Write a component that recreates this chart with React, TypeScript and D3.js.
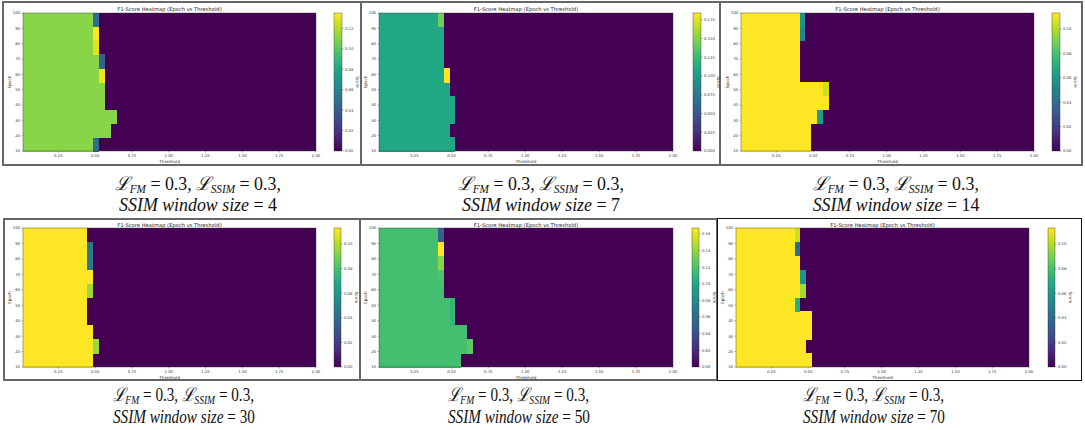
import React from 'react';
import * as d3 from 'd3';

// epochs (rows, bottom to top) and threshold axis
const epochs = [10, 20, 30, 40, 50, 60, 70, 80, 90, 100];
const thresholdExtent: [number, number] = [0.01, 2.0];
const thresholdCount = 50;
const xTicks = [0.25, 0.5, 0.75, 1.0, 1.25, 1.5, 1.75, 2.0];

// per panel: number of columns at the base score for each epoch row, and the score of the cell right after
const ws4Fill = [12, 15, 16, 14, 14, 13, 13, 12, 12, 12];
const ws4Edge = [0.047, 0, 0, 0, 0, 0.132, 0.042, 0.129, 0.135, 0.047];
const ws7Fill = [13, 12, 13, 13, 12, 11, 11, 11, 11, 10];
const ws7Edge = [0, 0, 0, 0, 0, 0.184, 0, 0, 0, 0.143];
const ws14Fill = [12, 12, 13, 15, 14, 10, 10, 10, 10, 10];
const ws14Edge = [0, 0, 0.062, 0, 0.105, 0, 0, 0, 0.051, 0.057];
const ws30Fill = [12, 12, 12, 11, 11, 11, 12, 11, 11, 11];
const ws30Edge = [0, 0.096, 0, 0, 0, 0.096, 0, 0.045, 0.045, 0];
const ws50Fill = [14, 15, 15, 12, 12, 11, 10, 10, 10, 10];
const ws50Edge = [0, 0.124, 0, 0.111, 0.111, 0, 0.12, 0.137, 0.167, 0.05];
const ws70Fill = [13, 12, 13, 13, 10, 11, 11, 11, 10, 10];
const ws70Edge = [0, 0, 0, 0, 0.07, 0.097, 0.059, 0, 0.04, 0.104];

const windowSizes = [4, 7, 14, 30, 50, 70];
const baseScores = [0.111, 0.11, 0.113, 0.113, 0.117, 0.113];
const scoreMax = [0.135, 0.184, 0.113, 0.113, 0.167, 0.113];
const fills = [ws4Fill, ws7Fill, ws14Fill, ws30Fill, ws50Fill, ws70Fill];
const edges = [ws4Edge, ws7Edge, ws14Edge, ws30Edge, ws50Edge, ws70Edge];
const cbTicks = [
  [0, 0.02, 0.04, 0.06, 0.08, 0.1, 0.12],
  [0, 0.025, 0.05, 0.075, 0.1, 0.125, 0.15, 0.175],
  [0, 0.02, 0.04, 0.06, 0.08, 0.1],
  [0, 0.02, 0.04, 0.06, 0.08, 0.1],
  [0, 0.02, 0.04, 0.06, 0.08, 0.1, 0.12, 0.14, 0.16],
  [0, 0.02, 0.04, 0.06, 0.08, 0.1],
];
const cbFormats = ['.2f', '.3f', '.2f', '.2f', '.2f', '.2f'];

// screen layout of each screenshot
const layouts = [
  { l: 23, r: 316, t: 13, b: 151, cbl: 334, cbr: 342, titleY: 10.5 },
  { l: 379, r: 673, t: 13, b: 151, cbl: 693, cbr: 701, titleY: 10.5 },
  { l: 741, r: 1034, t: 13, b: 151, cbl: 1052, cbr: 1060, titleY: 10.5 },
  { l: 23, r: 316, t: 228, b: 367, cbl: 334, cbr: 341, titleY: 226.5 },
  { l: 379, r: 673, t: 228, b: 367, cbl: 692, cbr: 699, titleY: 226.5 },
  { l: 736, r: 1029, t: 228, b: 367, cbl: 1048, cbr: 1055, titleY: 226.5 },
];
const captions = [
  { x: 198, y1: 190, y2: 211, anchor: 'middle', sx: 0.94 },
  { x: 541, y1: 190, y2: 211, anchor: 'middle', sx: 0.94 },
  { x: 896, y1: 190, y2: 211, anchor: 'middle', sx: 0.94 },
  { x: 113, y1: 401, y2: 423, anchor: 'start', sx: 0.8 },
  { x: 448, y1: 401, y2: 423, anchor: 'start', sx: 0.8 },
  { x: 803, y1: 401, y2: 423, anchor: 'start', sx: 0.8 },
];

const FONT = 'DejaVu Sans, sans-serif';

const Heatmap = ({ idx }: { idx: number }) => {
  const L = layouts[idx];
  const x = d3.scaleLinear().domain(thresholdExtent).range([L.l, L.r]);
  const y = d3.scaleLinear().domain([10, 100]).range([L.b, L.t]);
  const color = d3.scaleSequential(d3.interpolateViridis).domain([0, scoreMax[idx]]);
  const colW = (thresholdExtent[1] - thresholdExtent[0]) / thresholdCount;
  const rowH = (100 - 10) / epochs.length;

  const runs: { c0: number; c1: number; r: number; v: number }[] = [];
  epochs.forEach((_, r) => {
    const n = fills[idx][r];
    const e = edges[idx][r];
    runs.push({ c0: 0, c1: n, r, v: baseScores[idx] });
    if (e > 0) runs.push({ c0: n, c1: n + 1, r, v: e });
  });

  const cy = d3.scaleLinear().domain([0, scoreMax[idx]]).range([L.b, L.t]);
  const fmt = d3.format(cbFormats[idx]);
  const gradId = `cb${idx}`;

  return (
    <g fontFamily={FONT}>
      <rect x={L.l} y={L.t} width={L.r - L.l} height={L.b - L.t} fill={color(0)} />
      <g shapeRendering="crispEdges">
        {runs.map((d, i) => {
          const x0 = x(thresholdExtent[0] + d.c0 * colW);
          const x1 = x(thresholdExtent[0] + d.c1 * colW);
          const y0 = y(10 + (d.r + 1) * rowH);
          const y1 = y(10 + d.r * rowH);
          return <rect key={i} x={x0} y={y0} width={x1 - x0} height={y1 - y0 + 0.5} fill={color(d.v)} />;
        })}
      </g>
      <rect x={L.l} y={L.t} width={L.r - L.l} height={L.b - L.t} fill="none" stroke="#333" strokeWidth={0.4} />
      <text x={(L.l + L.r) / 2} y={L.titleY} fontSize={5.2} textAnchor="middle" fill="#222">
        F1-Score Heatmap (Epoch vs Threshold)
      </text>
      {epochs.map((e) => (
        <g key={e}>
          <line x1={L.l - 1.5} x2={L.l} y1={y(e)} y2={y(e)} stroke="#333" strokeWidth={0.4} />
          <text x={L.l - 3} y={y(e) + 1.4} fontSize={3.8} textAnchor="end" fill="#333">{e}</text>
        </g>
      ))}
      {xTicks.map((t) => (
        <g key={t}>
          <line x1={x(t)} x2={x(t)} y1={L.b} y2={L.b + 1.5} stroke="#333" strokeWidth={0.4} />
          <text x={x(t)} y={L.b + 6} fontSize={3.8} textAnchor="middle" fill="#333">{t.toFixed(2)}</text>
        </g>
      ))}
      <text x={(L.l + L.r) / 2} y={L.b + 11.5} fontSize={4.2} textAnchor="middle" fill="#333">Threshold</text>
      <text transform={`translate(${L.l - 12},${(L.t + L.b) / 2}) rotate(-90)`} fontSize={4.2} textAnchor="middle" fill="#333">
        Epoch
      </text>
      <defs>
        <linearGradient id={gradId} x1="0" y1="1" x2="0" y2="0">
          {d3.range(0, 1.0001, 0.1).map((s) => (
            <stop key={s} offset={s} stopColor={d3.interpolateViridis(s)} />
          ))}
        </linearGradient>
      </defs>
      <rect x={L.cbl} y={L.t} width={L.cbr - L.cbl} height={L.b - L.t} fill={`url(#${gradId})`} stroke="#333" strokeWidth={0.4} />
      {cbTicks[idx].map((t) => (
        <g key={t}>
          <line x1={L.cbr} x2={L.cbr + 1.5} y1={cy(t)} y2={cy(t)} stroke="#333" strokeWidth={0.4} />
          <text x={L.cbr + 3} y={cy(t) + 1.4} fontSize={3.8} fill="#333">{fmt(t)}</text>
        </g>
      ))}
      <text transform={`translate(${L.cbr + (cbFormats[idx] === '.3f' ? 16 : 14)},${(L.t + L.b) / 2}) rotate(90)`} fontSize={4.2} textAnchor="middle" fill="#333">
        Score
      </text>
    </g>
  );
};

const Caption = ({ idx }: { idx: number }) => {
  const c = captions[idx];
  const fs = 19;
  const fam = 'Liberation Serif, DejaVu Serif, serif';
  const subSize = 12;
  const dy = 3;
  return (
    <g fontFamily={fam} fill="#111" fontSize={fs} transform={`translate(${c.x},0) scale(${c.sx},1)`}>
      <text x={0} y={c.y1} textAnchor={c.anchor}>
        <tspan fontStyle="italic">ℒ</tspan>
        <tspan fontStyle="italic" fontSize={subSize} dy={dy}>FM</tspan>
        <tspan dy={-dy}> = 0.3, </tspan>
        <tspan fontStyle="italic">ℒ</tspan>
        <tspan fontStyle="italic" fontSize={subSize} dy={dy}>SSIM</tspan>
        <tspan dy={-dy}> = 0.3,</tspan>
      </text>
      <text x={0} y={c.y2} textAnchor={c.anchor}>
        <tspan fontStyle="italic">SSIM window size</tspan>
        <tspan> = {windowSizes[idx]}</tspan>
      </text>
    </g>
  );
};

const App = () => {
  return (
    <svg width={1085} height={430} style={{ position: 'absolute', left: 0, top: 0, background: '#fff' }}>
      <rect x={0} y={0} width={1085} height={430} fill="#fff" />
      {/* screenshot frames */}
      <rect x={3} y={2} width={1079} height={163} fill="none" stroke="#666" strokeWidth={2} />
      <line x1={361} x2={361} y1={2} y2={165} stroke="#666" strokeWidth={2} />
      <line x1={720} x2={720} y1={2} y2={165} stroke="#666" strokeWidth={2} />
      <rect x={4} y={219} width={713} height={161} fill="none" stroke="#666" strokeWidth={2} />
      <line x1={360} x2={360} y1={219} y2={380} stroke="#666" strokeWidth={2} />
      <rect x={717.5} y={218.5} width={364} height={162} fill="none" stroke="#111" strokeWidth={1} />
      {windowSizes.map((_, i) => (
        <Heatmap key={i} idx={i} />
      ))}
      {windowSizes.map((_, i) => (
        <Caption key={i} idx={i} />
      ))}
    </svg>
  );
};

export default App;
